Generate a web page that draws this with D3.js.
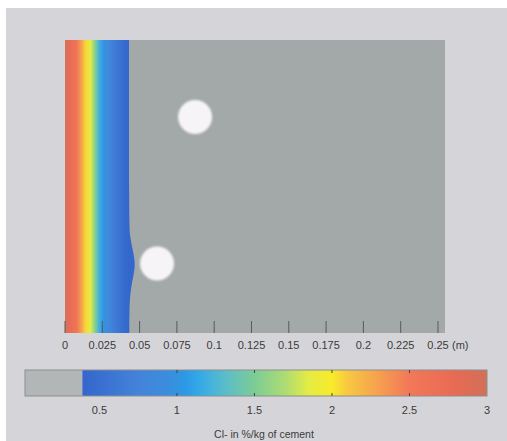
<!DOCTYPE html>
<html>
<head>
<meta charset="utf-8">
<script src="https://cdn.jsdelivr.net/npm/d3@7"></script>
<style>
  body { margin: 0; background: #ffffff; }
  text { font-family: "Liberation Sans", Arial, sans-serif; fill: #3a3a3a; }
</style>
</head>
<body>
<div id="chart"></div>
<script>
// x ticks (depth in m)
const xTicks = [0, 0.025, 0.05, 0.075, 0.1, 0.125, 0.15, 0.175, 0.2, 0.225, 0.25];
const xTickLabels = ["0", "0.025", "0.05", "0.075", "0.1", "0.125", "0.15", "0.175", "0.2", "0.225", "0.25"];

// chloride profile
const depths = [0, 0.004, 0.008, 0.011, 0.014, 0.017, 0.02, 0.023, 0.026, 0.03, 0.035, 0.04, 0.0429];
const chloride = [2.95, 2.75, 2.55, 2.3, 2.05, 1.85, 1.55, 1.2, 1.0, 0.8, 0.6, 0.45, 0.4];

// front of the penetration (depth vs height from top, m)
const frontHeight = [0, 0.12, 0.132, 0.142, 0.15, 0.158, 0.168, 0.18, 0.196];
const frontDepth = [0.0429, 0.0429, 0.0435, 0.0458, 0.0472, 0.0458, 0.0438, 0.0431, 0.0431];

// rebars: [x, y from top] in m, radius in m
const rebarX = [0.0872, 0.0617];
const rebarY = [0.0515, 0.1495];
const rebarR = 0.0114;

// colour bar
const cbTicks = [0.5, 1, 1.5, 2, 2.5, 3];
const cbTickLabels = ["0.5", "1", "1.5", "2", "2.5", "3"];
const cbValues = [0.39, 0.5, 0.75, 0.95, 1.05, 1.15, 1.3, 1.5, 1.7, 1.85, 2.0, 2.1, 2.3, 2.5, 2.8, 3.0];
const cbColors = ["#3466cc", "#386fd0", "#4483da", "#3a8ede", "#2c98e4", "#34aae8", "#58bccc", "#7ccc96",
                  "#aedc72", "#e4ec44", "#f8ea2a", "#f8c842", "#f6a04e", "#f27858", "#e86a54", "#d07058"];
const belowColor = "#b2b6b6";
const cbMin = 0.02;

const W = 507, H = 441;
const plot = { left: 65, top: 40, right: 445, bottom: 333 };

const svg = d3.select("#chart").append("svg")
  .attr("width", W)
  .attr("height", H);

// panel background
svg.append("rect")
  .attr("x", 6).attr("y", 8)
  .attr("width", W - 6).attr("height", H - 8)
  .attr("fill", "#d5d5d9");

const x = d3.scaleLinear()
  .domain([0, 0.2547])
  .range([plot.left, plot.right]);

const y = d3.scaleLinear()
  .domain([0, 0.196])
  .range([plot.top, plot.bottom]);

const color = d3.scaleLinear()
  .domain(cbValues)
  .range(cbColors)
  .clamp(true);

const defs = svg.append("defs");

// gradient along depth built from the profile
const grad = defs.append("linearGradient")
  .attr("id", "profile")
  .attr("gradientUnits", "userSpaceOnUse")
  .attr("x1", x(0)).attr("x2", x(depths[depths.length - 1]))
  .attr("y1", 0).attr("y2", 0);
grad.selectAll("stop")
  .data(depths)
  .enter()
  .append("stop")
  .attr("offset", (d, i) => d / depths[depths.length - 1])
  .attr("stop-color", (d, i) => color(chloride[i]));

defs.append("filter")
  .attr("id", "soft")
  .append("feGaussianBlur")
  .attr("stdDeviation", 0.8);

// concrete (uncontaminated)
svg.append("rect")
  .attr("x", plot.left).attr("y", plot.top)
  .attr("width", plot.right - plot.left)
  .attr("height", plot.bottom - plot.top)
  .attr("fill", "#a3a9a9");

// contaminated zone
const front = frontHeight.map((h, i) => [x(frontDepth[i]), y(h)]);
const frontPath = d3.line().curve(d3.curveBasis)(front);
svg.append("path")
  .attr("d", "M" + x(0) + "," + y(0) + "L" + frontPath.slice(1) + "L" + x(0) + "," + y(0.196) + "Z")
  .attr("fill", "url(#profile)");

// rebars
svg.selectAll("circle.rebar")
  .data(rebarX)
  .enter()
  .append("circle")
  .attr("class", "rebar")
  .attr("cx", d => x(d))
  .attr("cy", (d, i) => y(rebarY[i]))
  .attr("r", x(rebarR) - x(0))
  .attr("fill", "#f6f4f6")
  .attr("filter", "url(#soft)");

// x axis ticks inside the plot
svg.append("g")
  .selectAll("line")
  .data(xTicks)
  .enter()
  .append("line")
  .attr("x1", d => x(d)).attr("x2", d => x(d))
  .attr("y1", plot.bottom).attr("y2", plot.bottom - 12)
  .attr("stroke", "#555a5a")
  .attr("stroke-width", 1);

svg.append("g")
  .selectAll("text")
  .data(xTicks)
  .enter()
  .append("text")
  .attr("x", d => x(d))
  .attr("y", 349)
  .attr("text-anchor", "middle")
  .style("font-size", "11px")
  .text((d, i) => xTickLabels[i]);

svg.append("text")
  .attr("x", x(0.25) + 14)
  .attr("y", 349)
  .style("font-size", "11px")
  .text("(m)");

// colour bar
const cb = { left: 25, right: 487, top: 370, bottom: 396 };
const cx = d3.scaleLinear()
  .domain([cbMin, 3])
  .range([cb.left, cb.right]);

const cbGrad = defs.append("linearGradient")
  .attr("id", "cbar")
  .attr("gradientUnits", "userSpaceOnUse")
  .attr("x1", cx(cbValues[0])).attr("x2", cx(3))
  .attr("y1", 0).attr("y2", 0);
cbGrad.selectAll("stop")
  .data(cbValues)
  .enter()
  .append("stop")
  .attr("offset", d => (d - cbValues[0]) / (3 - cbValues[0]))
  .attr("stop-color", (d, i) => cbColors[i]);

svg.append("rect")
  .attr("x", cx(cbMin)).attr("y", cb.top)
  .attr("width", cx(cbValues[0]) - cx(cbMin))
  .attr("height", cb.bottom - cb.top)
  .attr("fill", belowColor);

svg.append("rect")
  .attr("x", cx(cbValues[0])).attr("y", cb.top)
  .attr("width", cx(3) - cx(cbValues[0]))
  .attr("height", cb.bottom - cb.top)
  .attr("fill", "url(#cbar)");

svg.append("rect")
  .attr("x", cb.left).attr("y", cb.top)
  .attr("width", cb.right - cb.left)
  .attr("height", cb.bottom - cb.top)
  .attr("fill", "none")
  .attr("stroke", "#8c8e90")
  .attr("stroke-width", 1);

// small tick marks top and bottom
const cbTickG = svg.append("g");
cbTickG.selectAll("line.top")
  .data(cbTicks.slice(1, 5))
  .enter()
  .append("line")
  .attr("x1", d => cx(d)).attr("x2", d => cx(d))
  .attr("y1", cb.top).attr("y2", cb.top + 3)
  .attr("stroke", "#404448");
cbTickG.selectAll("line.bot")
  .data(cbTicks.slice(1, 5))
  .enter()
  .append("line")
  .attr("x1", d => cx(d)).attr("x2", d => cx(d))
  .attr("y1", cb.bottom).attr("y2", cb.bottom - 3)
  .attr("stroke", "#404448");

svg.append("g")
  .selectAll("text")
  .data(cbTicks)
  .enter()
  .append("text")
  .attr("x", d => cx(d))
  .attr("y", 414)
  .attr("text-anchor", "middle")
  .style("font-size", "11px")
  .text((d, i) => cbTickLabels[i]);

svg.append("text")
  .attr("x", 264)
  .attr("y", 438)
  .attr("text-anchor", "middle")
  .style("font-size", "10.5px")
  .text("Cl- in %/kg of cement");
</script>
</body>
</html>
